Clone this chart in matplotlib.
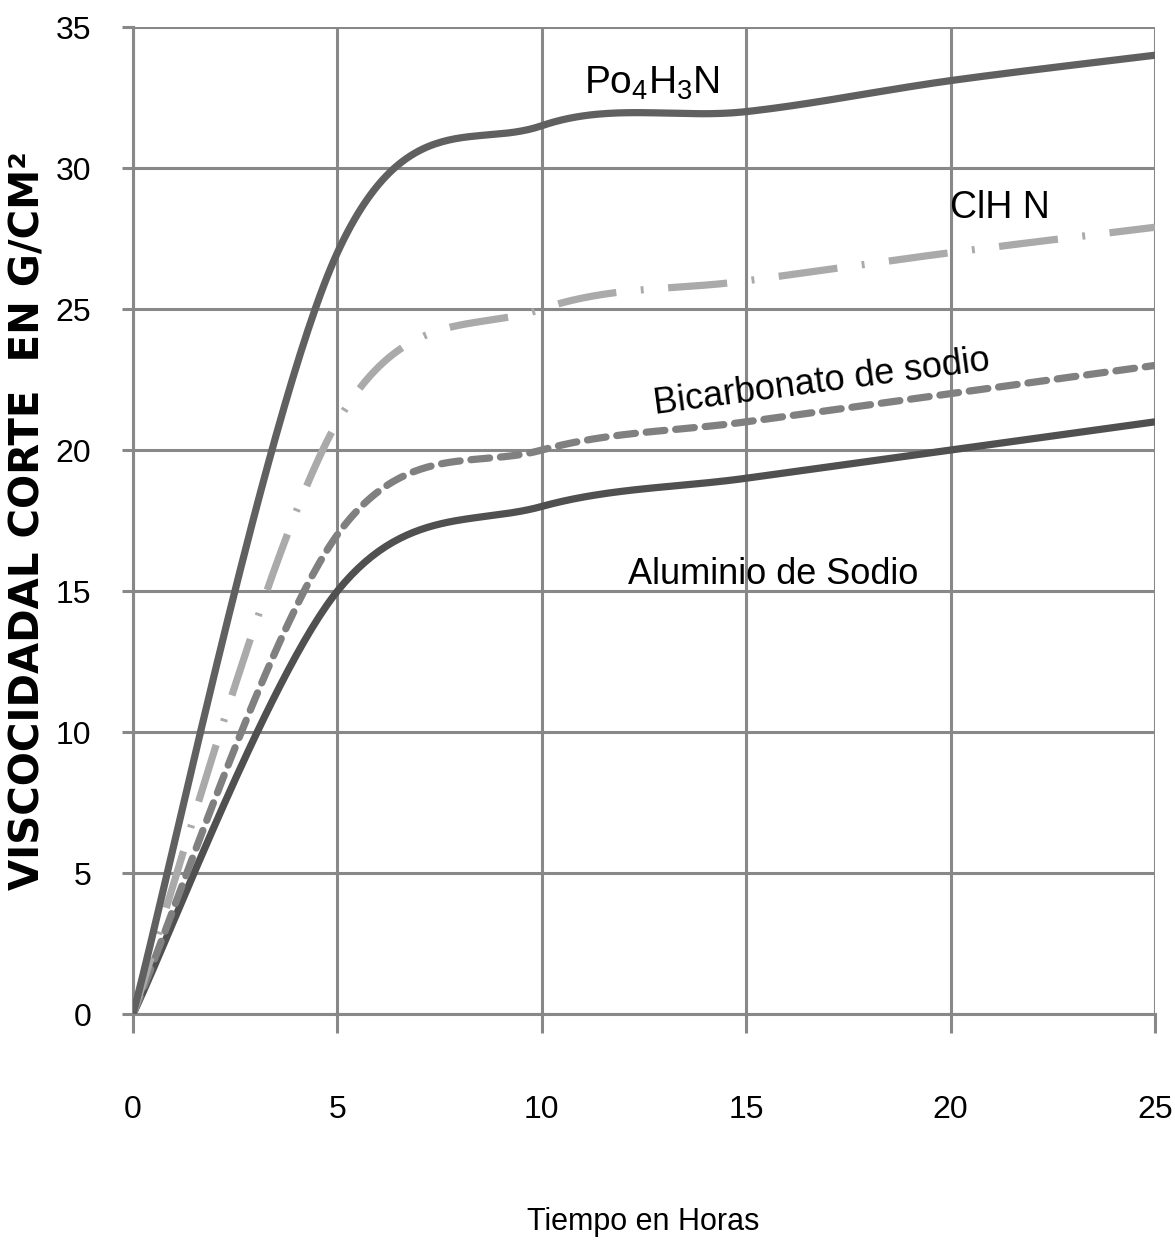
import numpy as np
import matplotlib
matplotlib.use("Agg")
import matplotlib.pyplot as plt
from matplotlib import font_manager

# ---- data -------------------------------------------------------------
horas = [0, 5, 10, 15, 20, 25]
po4h3n = [0, 27.0, 31.5, 32.0, 33.1, 34.0]
clh_n = [0, 21.0, 25.0, 26.0, 27.0, 27.9]
bicarbonato = [0, 17.0, 20.0, 21.0, 22.0, 23.0]
aluminio = [0, 15.0, 18.0, 19.0, 20.0, 21.0]

x_ticks = [0, 5, 10, 15, 20, 25]
y_ticks = [0, 5, 10, 15, 20, 25, 30, 35]

x_label = "Tiempo en Horas"
y_label = "VISCOCIDADAL CORTE  EN G/CM²"

# ---- fonts ------------------------------------------------------------
names = {f.name for f in font_manager.fontManager.ttflist}
narrow = "Liberation Sans Narrow" if "Liberation Sans Narrow" in names else "Liberation Sans"
plt.rcParams["mathtext.default"] = "regular"


def smooth(xs, ys, n=60):
    """Cubic Bezier smoothing through the points (spreadsheet-style)."""
    p = np.column_stack([xs, ys]).astype(float)
    out = []
    for i in range(len(p) - 1):
        p0 = p[i - 1] if i > 0 else p[i]
        p1, p2 = p[i], p[i + 1]
        p3 = p[i + 2] if i + 2 < len(p) else p[i + 1]
        c1 = p1 + (p2 - p0) / 6.0
        c2 = p2 - (p3 - p1) / 6.0
        t = np.linspace(0, 1, n)[:, None]
        seg = ((1 - t) ** 3) * p1 + 3 * ((1 - t) ** 2) * t * c1 \
            + 3 * (1 - t) * t ** 2 * c2 + t ** 3 * p2
        out.append(seg if i == 0 else seg[1:])
    pts = np.vstack(out)
    return pts[:, 0], pts[:, 1]


fig = plt.figure(figsize=(11.75, 12.45), dpi=100)
ax = fig.add_axes([0.1132, 0.1855, 0.8698, 0.7928])

grid_c = "#888888"
ax.set_xlim(0, 25)
ax.set_ylim(0, 35)
ax.set_xticks(x_ticks)
ax.set_yticks(y_ticks)
ax.grid(True, color=grid_c, linewidth=2.2)
ax.set_axisbelow(True)
for side, sp in ax.spines.items():
    sp.set_visible(side in ("left", "bottom"))
    sp.set_color(grid_c)
    sp.set_linewidth(2.2)
ax.tick_params(axis="both", colors=grid_c, width=2.2, labelcolor="black")
ax.tick_params(axis="y", length=8, pad=22)
ax.tick_params(axis="x", length=14, pad=44)
for lab in ax.get_xticklabels() + ax.get_yticklabels():
    lab.set_fontfamily(narrow)
    lab.set_fontsize(23)

lw = 5.2
xs, ys = smooth(horas, aluminio)
ax.plot(xs, ys, color="#505050", lw=lw, solid_capstyle="round", zorder=3)
xs, ys = smooth(horas, bicarbonato)
ax.plot(xs, ys, color="#808080", lw=lw, dashes=(2.6, 1.5), dash_capstyle="round", zorder=3)
xs, ys = smooth(horas, clh_n)
ax.plot(xs, ys, color="#aaaaaa", lw=lw, dashes=(8.2, 3.4, 0.4, 3.4), dash_capstyle="butt", zorder=3)
xs, ys = smooth(horas, po4h3n)
ax.plot(xs, ys, color="#606060", lw=lw, solid_capstyle="round", zorder=4)

# series names written next to their curves
lab_kw = dict(fontfamily=narrow, color="black", ha="center", va="center", zorder=5)
ax.text(12.7, 33.0, "Po$_4$H$_3$N", fontsize=28, **lab_kw)
ax.text(21.2, 28.6, "ClH N", fontsize=27, **lab_kw)
ax.text(16.85, 22.4, "Bicarbonato de sodio", fontsize=26, rotation=7.5, **lab_kw)
ax.text(15.65, 15.6, "Aluminio de Sodio", fontsize=26, **lab_kw)

ax.set_xlabel(x_label, fontfamily=narrow, fontsize=22)
ax.xaxis.set_label_coords(0.499, -0.2107)
ax.set_ylabel(y_label, fontfamily="DejaVu Sans", fontweight="bold", fontsize=29)
ax.yaxis.set_label_coords(-0.1027, 0.4995)
ax.yaxis.label.set_va("center")
ax.xaxis.label.set_va("center")

fig.savefig("out.png", dpi=100, facecolor="white")
